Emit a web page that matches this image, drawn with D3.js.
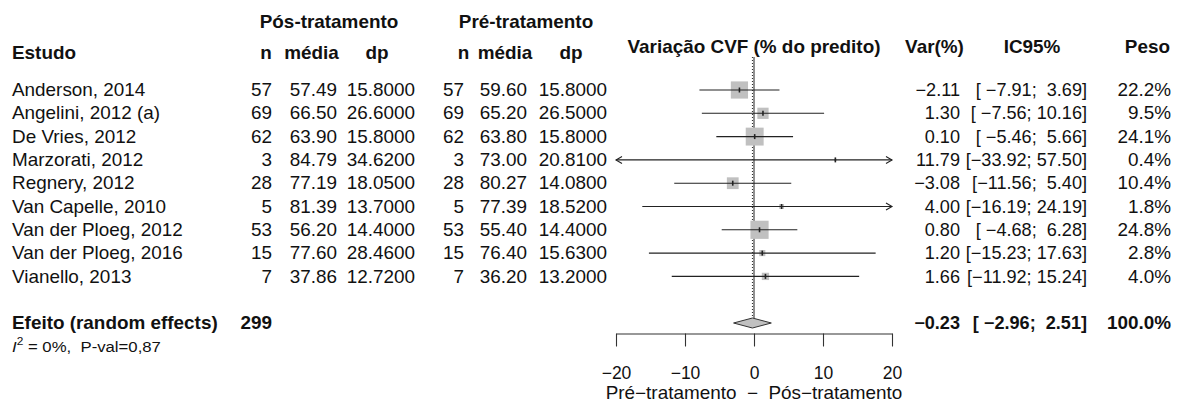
<!DOCTYPE html>
<html><head><meta charset="utf-8">
<script src="https://cdn.jsdelivr.net/npm/d3@7"></script>
<style>
body{margin:0;background:#fff;}
svg text{font-family:"Liberation Sans",Arial,sans-serif;fill:#111;white-space:pre;}
</style></head>
<body><svg id="c" width="1183" height="403"></svg>
<script>
const studies = ["Anderson, 2014","Angelini, 2012 (a)","De Vries, 2012","Marzorati, 2012","Regnery, 2012","Van Capelle, 2010","Van der Ploeg, 2012","Van der Ploeg, 2016","Vianello, 2013"];
const nPost = [57,69,62,3,28,5,53,15,7];
const meanPost = [57.49,66.50,63.90,84.79,77.19,81.39,56.20,77.60,37.86];
const sdPost = [15.8,26.6,15.8,34.62,18.05,13.7,14.4,28.46,12.72];
const nPre = [57,69,62,3,28,5,53,15,7];
const meanPre = [59.60,65.20,63.80,73.00,80.27,77.39,55.40,76.40,36.20];
const sdPre = [15.8,26.5,15.8,20.81,14.08,18.52,14.4,15.63,13.2];
const effect = [-2.11,1.30,0.10,11.79,-3.08,4.00,0.80,1.20,1.66];
const ciLow = [-7.91,-7.56,-5.46,-33.92,-11.56,-16.19,-4.68,-15.23,-11.92];
const ciHigh = [3.69,10.16,5.66,57.50,5.40,24.19,6.28,17.63,15.24];
const weight = [22.2,9.5,24.1,0.4,10.4,1.8,24.8,2.8,4.0];
const summary = {label:"Efeito (random effects)", n:299, est:-0.23, lo:-2.96, hi:2.51, w:100.0};
const heterogeneity = "= 0%,  P-val=0,87";
const xTicks = [-20,-10,0,10,20];
const xDomain = [-20,20];

const svg = d3.select("#c");
const FS = 17.5, SX = 1.08;
const minus = s => s.replace(/-/g,"\u2212");
function txt(x,y,s,opt={}){
  const size = opt.size||FS;
  const sx = opt.sx||SX;
  return svg.append("text")
    .attr("transform",`translate(${x},${y+0.35*size}) scale(${sx},1)`)
    .attr("text-anchor",opt.anchor||"start")
    .attr("font-weight",opt.bold?"bold":"normal")
    .attr("font-size",size)
    .text(s);
}
const x = d3.scaleLinear().domain(xDomain).range([616,892]);
const rowIdx = d3.range(11);
const y = d3.scalePoint().domain(rowIdx).range([90,323]);

// headers
txt(329,22,"Pós-tratamento",{anchor:"middle",bold:true});
txt(526,22,"Pré-tratamento",{anchor:"middle",bold:true});
txt(12,53,"Estudo",{bold:true});
[[266,"n"],[311.5,"média"],[377,"dp"],[463.5,"n"],[505,"média"],[571,"dp"]].forEach(([cx,s])=>txt(cx,53,s,{anchor:"middle",bold:true}));
txt(754,47,"Variação CVF (% do predito)",{anchor:"middle",bold:true});
txt(934.5,47,"Var(%)",{anchor:"middle",bold:true});
txt(1032,47,"IC95%",{anchor:"middle",bold:true});
txt(1170,47,"Peso",{anchor:"end",bold:true});

const fmtCI = (lo,hi)=>minus("["+lo.toFixed(2).padStart(6," ")+"; "+hi.toFixed(2).padStart(5," ")+"]");
const NSX = 1.035;

studies.forEach((s,i)=>{
  const yy = y(i);
  txt(12,yy,s);
  txt(272,yy,String(nPost[i]),{anchor:"end"});
  txt(337,yy,meanPost[i].toFixed(2),{anchor:"end"});
  txt(415,yy,sdPost[i].toFixed(4),{anchor:"end"});
  txt(464,yy,String(nPre[i]),{anchor:"end"});
  txt(527,yy,meanPre[i].toFixed(2),{anchor:"end"});
  txt(607,yy,sdPre[i].toFixed(4),{anchor:"end"});
  txt(960,yy,minus(effect[i].toFixed(2)),{anchor:"end",sx:NSX});
  txt(1087,yy,fmtCI(ciLow[i],ciHigh[i]),{anchor:"end",sx:NSX});
  txt(1171,yy,weight[i].toFixed(1)+"%",{anchor:"end"});
});

// reference lines
const topY = 57, diaTop = y(10)-5;
svg.append("line").attr("x1",x(0)).attr("x2",x(0)).attr("y1",topY).attr("y2",diaTop)
  .attr("stroke","#222").attr("stroke-width",1);
svg.append("line").attr("x1",x(summary.est)).attr("x2",x(summary.est)).attr("y1",topY).attr("y2",diaTop)
  .attr("stroke","#222").attr("stroke-width",1).attr("stroke-dasharray","1,2");

// study marks
const K = 3.65;
const g = svg.append("g");
studies.forEach((s,i)=>{
  const yy = y(i);
  const side = K*Math.sqrt(weight[i]);
  g.append("rect").attr("x",x(effect[i])-side/2).attr("y",yy-side/2)
    .attr("width",side).attr("height",side).attr("fill","#c0c0c0");
  const lo = Math.max(ciLow[i],xDomain[0]), hi = Math.min(ciHigh[i],xDomain[1]);
  g.append("line").attr("x1",x(lo)).attr("x2",x(hi)).attr("y1",yy).attr("y2",yy)
    .attr("stroke","#222").attr("stroke-width",1.1);
  g.append("line").attr("x1",x(effect[i])).attr("x2",x(effect[i])).attr("y1",yy-2.5).attr("y2",yy+2.5)
    .attr("stroke","#222").attr("stroke-width",1.6);
  if (ciHigh[i]>xDomain[1]) {
    const ax = x(xDomain[1]);
    g.append("path").attr("d",`M${ax-6},${yy-3.5}L${ax},${yy}L${ax-6},${yy+3.5}`)
      .attr("fill","none").attr("stroke","#222").attr("stroke-width",1.1);
  }
  if (ciLow[i]<xDomain[0]) {
    const ax = x(xDomain[0]);
    g.append("path").attr("d",`M${ax+6},${yy-3.5}L${ax},${yy}L${ax+6},${yy+3.5}`)
      .attr("fill","none").attr("stroke","#222").attr("stroke-width",1.1);
  }
});

// summary
const ys = y(10);
svg.append("path").attr("d",`M${x(summary.lo)},${ys}L${x(summary.est)},${ys-5}L${x(summary.hi)},${ys}L${x(summary.est)},${ys+5}Z`)
  .attr("fill","#c0c0c0").attr("stroke","#333").attr("stroke-width",1);
txt(12,ys,summary.label,{bold:true});
txt(272,ys,String(summary.n),{anchor:"end",bold:true});
txt(960,ys,minus(summary.est.toFixed(2)),{anchor:"end",bold:true,sx:NSX});
txt(1087,ys,fmtCI(summary.lo,summary.hi),{anchor:"end",bold:true,sx:NSX});
txt(1171,ys,summary.w.toFixed(1)+"%",{anchor:"end",bold:true});

// heterogeneity
const ht = svg.append("text").attr("transform",`translate(12,${346+5.5}) scale(${SX},1)`).attr("font-size",15.5);
ht.append("tspan").attr("font-style","italic").text("I");
ht.append("tspan").attr("dy",-6.5).attr("font-size",11).text("2");
ht.append("tspan").attr("dy",6.5).text(" "+heterogeneity);

// axis
const axis = d3.axisBottom(x).tickValues(xTicks).tickSize(13).tickSizeOuter(0).tickPadding(20)
  .tickFormat(d=>minus(String(d)));
const ag = svg.append("g").attr("transform","translate(0,333.5)").call(axis);
ag.selectAll("path,line").attr("stroke","#333").attr("stroke-width",1.1);
ag.selectAll("text").attr("font-size",FS).attr("font-family","Liberation Sans, Arial, sans-serif").attr("fill","#111");
txt(754,393,"Pré\u2212tratamento  \u2212  Pós\u2212tratamento",{anchor:"middle"});
</script></body></html>
